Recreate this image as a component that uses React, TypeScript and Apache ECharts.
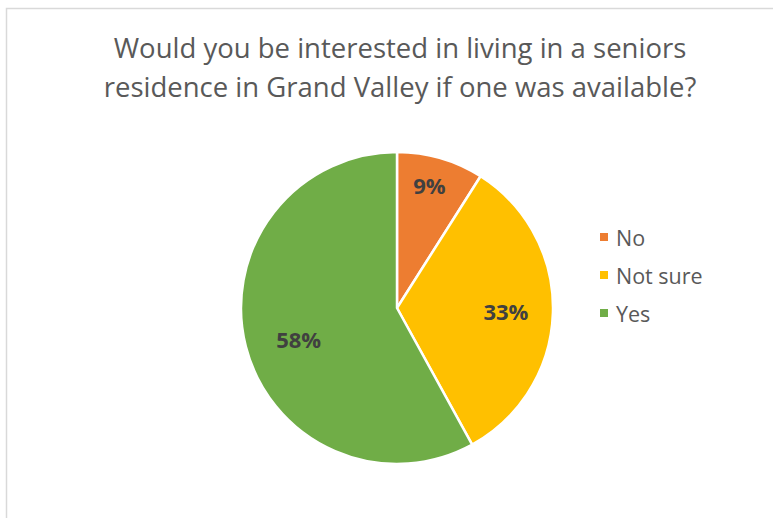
import React, { useEffect, useRef } from "react";
import * as echarts from "echarts";

const titleText = "Would you be interested in living in a seniors\nresidence in Grand Valley if one was available?";
const categories = ["No", "Not sure", "Yes"];
const values = [9, 33, 58];
const colors = ["#ED7D31", "#FFC000", "#70AD47"];
const FONT = "Open Sans";

export default function App() {
  const ref = useRef<HTMLDivElement>(null);
  useEffect(() => {
    document.body.style.margin = "0";
    const chart = echarts.init(ref.current!, null, { renderer: "svg" });
    const data = categories.map((c, i) => ({ name: c, value: values[i], itemStyle: { color: colors[i] } }));
    chart.setOption({
      animation: false,
      backgroundColor: "#ffffff",
      title: {
        text: titleText,
        left: 395,
        textAlign: "center",
        top: 23,
        textStyle: {
          fontFamily: FONT,
          fontWeight: "normal",
          fontSize: 27.5,
          lineHeight: 39,
          color: "#595959",
        },
      },
      legend: {
        orient: "vertical",
        left: 593,
        top: 221,
        itemWidth: 10,
        itemHeight: 10,
        itemGap: 16,
        icon: "rect",
        data: categories,
        textStyle: { fontFamily: FONT, fontSize: 21.5, color: "#595959", padding: [0, 0, 0, 2] },
      },
      graphic: [
        {
          type: "rect",
          shape: { x: 6.5, y: 8.5, width: 900, height: 700 },
          style: { fill: "none", stroke: "#D9D9D9", lineWidth: 1.5 },
          silent: true,
        },
      ],
      series: [
        {
          type: "pie",
          center: [397, 308],
          radius: [0, 156],
          startAngle: 90,
          clockwise: true,
          data,
          label: { show: false },
          labelLine: { show: false },
          itemStyle: { borderColor: "#ffffff", borderWidth: 2.5 },
          emphasis: { disabled: true },
        },
        {
          type: "pie",
          center: [397, 308],
          radius: [70, 156],
          startAngle: 90,
          clockwise: true,
          silent: true,
          data: categories.map((c, i) => ({ name: c, value: values[i] })),
          itemStyle: { color: "rgba(0,0,0,0)" },
          label: {
            show: true,
            position: "inside",
            formatter: "{c}%",
            fontFamily: FONT,
            fontWeight: "bold",
            fontSize: 22,
            color: "#404040",
          },
          labelLayout: (p: any) => {
            if (p.dataIndex === 0) return { dx: 0, dy: -12 };
            if (p.dataIndex === 1) return { dx: -7, dy: -1 };
            return { dx: 14, dy: 2 };
          },
          labelLine: { show: false },
          emphasis: { disabled: true },
        },
      ],
    });
    return () => chart.dispose();
  }, []);
  return <div ref={ref} style={{ width: 773, height: 518 }} />;
}
